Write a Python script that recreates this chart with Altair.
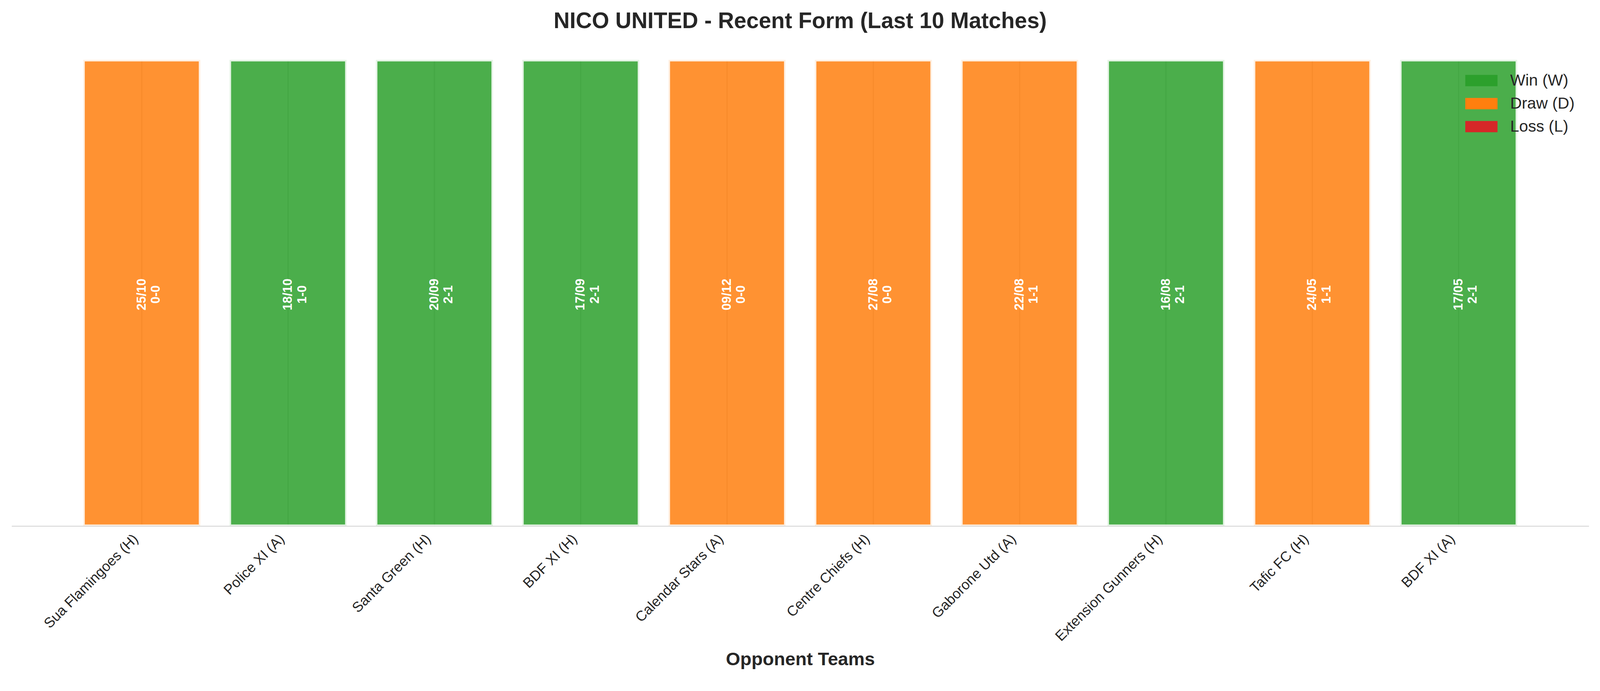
import altair as alt
import pandas as pd

# ---- data ----
teams = ["Sua Flamingoes (H)", "Police XI (A)", "Santa Green (H)", "BDF XI (H)",
         "Calendar Stars (A)", "Centre Chiefs (H)", "Gaborone Utd (A)",
         "Extension Gunners (H)", "Tafic FC (H)", "BDF XI (A)"]
results = ["D", "W", "W", "W", "D", "D", "D", "W", "D", "W"]
dates = ["25/10", "18/10", "20/09", "17/09", "09/12", "27/08", "22/08", "16/08", "24/05", "17/05"]
scores = ["0-0", "1-0", "2-1", "2-1", "0-0", "0-0", "1-1", "2-1", "1-1", "2-1"]
heights = [1, 1, 1, 1, 1, 1, 1, 1, 1, 1]

result_names = {"W": "Win (W)", "D": "Draw (D)", "L": "Loss (L)"}
legend_order = ["Win (W)", "Draw (D)", "Loss (L)"]
legend_colors = ["#2ca02c", "#ff7f0e", "#d62728"]

df = pd.DataFrame({
    "team": teams,
    "result": [result_names[r] for r in results],
    "height": heights,
    "label": [d + "\n" + s for d, s in zip(dates, scores)],
})
df["mid"] = df["height"] / 2

FONT = "Liberation Sans"
DARK = "#262626"

x_enc = alt.X(
    "team:N",
    sort=teams,
    title="Opponent Teams",
    scale=alt.Scale(paddingInner=0.2, paddingOuter=0.49),
    axis=alt.Axis(
        domain=True, domainColor="#cccccc", domainWidth=2,
        ticks=False, grid=False, zindex=1,
        labelAngle=315, labelAlign="right", labelBaseline="top",
        labelPadding=15, labelOffset=-28, labelFontSize=37, labelFont=FONT,
        labelColor=DARK, labelLimit=2000, labelOverlap=False, labelBound=False,
        titleFont=FONT, titleFontSize=48, titleFontWeight="bold", titleColor=DARK,
        titleBaseline="alphabetic", titleY=362,
    ),
)
y_scale = alt.Scale(domain=[0, 1])

base = alt.Chart(df)

grid = base.mark_rule(color="#cccccc", strokeWidth=3).encode(
    x=x_enc,
    y=alt.Y("height:Q", scale=y_scale, axis=None),
    y2=alt.datum(0),
)

bars = base.mark_bar(
    fillOpacity=0.85, stroke="white", strokeOpacity=0.85, strokeWidth=8
).encode(
    x=x_enc,
    y=alt.Y("height:Q", scale=y_scale, axis=None),
    y2=alt.datum(0),
    color=alt.Color(
        "result:N",
        scale=alt.Scale(domain=legend_order, range=legend_colors),
        legend=alt.Legend(
            title=None, orient="none", legendX=3810, legendY=33,
            symbolType="M-2,-0.7H2V0.7H-2Z", symbolSize=1764,
            symbolOpacity=1, symbolStrokeWidth=0,
            labelFont=FONT, labelFontSize=42, labelColor=DARK, labelLimit=1000,
            labelOffset=54, rowPadding=18, padding=0,
        ),
    ),
)

texts = base.mark_text(
    angle=270, align="center", baseline="middle", lineBreak="\n",
    color="white", font=FONT, fontWeight="bold", fontSize=33, lineHeight=37, dx=-4,
).encode(
    x=x_enc,
    y=alt.Y("mid:Q", scale=y_scale, axis=None),
    text="label:N",
)

chart = alt.layer(grid, bars, texts).properties(
    width=4111,
    height=1215,
    background="white",
    autosize=alt.AutoSizeParams(type="none"),
    padding={"left": 22, "top": 132, "right": 21, "bottom": 406},
    title=alt.TitleParams(
        "NICO UNITED - Recent Form (Last 10 Matches)",
        font=FONT, fontSize=58, fontWeight="bold", color=DARK,
        anchor="middle", frame="group", baseline="alphabetic", offset=21,
    ),
).configure_view(strokeWidth=0)

chart.save("out.html", embed_options={"renderer": "svg", "actions": False})
